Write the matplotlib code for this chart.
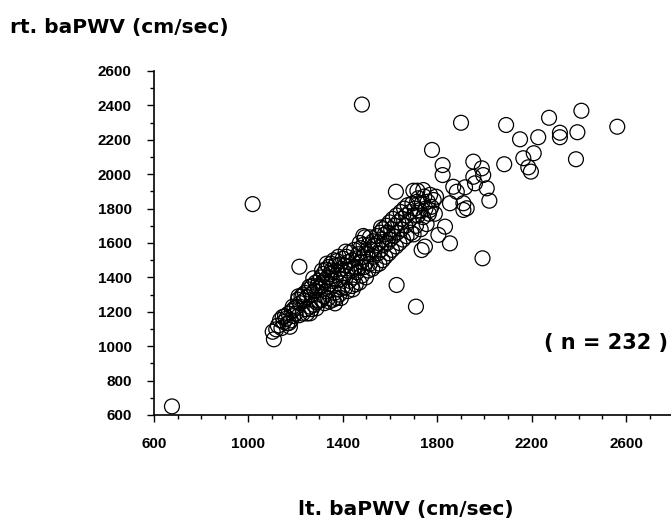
import matplotlib
matplotlib.use("Agg")
import matplotlib.pyplot as plt
from matplotlib.ticker import MultipleLocator

# outliers and sparse upper-right points (lt, rt)
lt_sparse = [676, 1018, 1481, 1216, 1625, 1699, 1716, 1628, 1710,
             1901, 2092, 2274, 2411, 2563, 1778, 2151, 2228, 2320, 2320,
             2394, 2388, 2084, 2209, 2165, 2186, 2197, 1823, 1823, 1953,
             1989, 1995, 1953, 1960, 2010, 2021, 1868, 1883, 1918, 1854,
             1911, 1925, 1911, 1795, 1741, 1833, 1854, 1805, 1748, 1992]
rt_sparse = [650, 1826, 2405, 1462, 1898, 1904, 1904, 1356, 1230,
             2299, 2286, 2328, 2369, 2276, 2141, 2203, 2215, 2241, 2215,
             2244, 2087, 2058, 2122, 2093, 2040, 2015, 2053, 1995, 2073,
             2034, 1995, 1985, 1947, 1918, 1846, 1927, 1898, 1924, 1831,
             1831, 1802, 1792, 1869, 1908, 1695, 1598, 1647, 1579, 1511]

# dense band (lt, rt)
lt_band = [1103, 1108, 1134, 1165, 1176, 1125, 1140, 1150, 1155, 1160, 1170, 1180, 1185, 1190, 1195, 1200, 1145, 1118, 1172, 1188,
           1205, 1210, 1215, 1220, 1225, 1230, 1235, 1240, 1245, 1250, 1255, 1260, 1261, 1265, 1270, 1275, 1278, 1280, 1285, 1290,
           1295, 1298, 1300, 1248, 1232, 1268, 1288, 1292, 1212, 1258,
           1305, 1308, 1310, 1315, 1318, 1320, 1325, 1328, 1330, 1335, 1338, 1340, 1345, 1348, 1350, 1355, 1358, 1360, 1365, 1367,
           1368, 1370, 1375, 1378, 1380, 1385, 1388, 1390, 1395, 1398, 1400, 1312, 1322, 1342, 1362, 1372, 1382, 1392, 1352, 1332,
           1405, 1408, 1410, 1415, 1418, 1420, 1425, 1428, 1430, 1435, 1438, 1440, 1445, 1448, 1450, 1455, 1458, 1460, 1465, 1468,
           1470, 1475, 1478, 1480, 1485, 1488, 1490, 1494, 1495, 1498, 1500, 1412, 1442, 1472, 1487,
           1505, 1508, 1510, 1515, 1515, 1520, 1525, 1528, 1530, 1535, 1540, 1545, 1548, 1550, 1555, 1558, 1560, 1565, 1568, 1570,
           1575, 1578, 1580, 1585, 1588, 1590, 1595, 1598, 1600, 1562,
           1605, 1608, 1612, 1615, 1620, 1625, 1628, 1630, 1635, 1640, 1645, 1648, 1650, 1655, 1660, 1665, 1668, 1670, 1675, 1680,
           1685, 1690, 1695, 1700, 1734,
           1705, 1710, 1715, 1718, 1720, 1725, 1730, 1735, 1740, 1745, 1750, 1755, 1760, 1765, 1770, 1775, 1785, 1790, 1769, 1700]
rt_band = [1084, 1040, 1152, 1133, 1113, 1120, 1105, 1140, 1175, 1160, 1190, 1150, 1205, 1175, 1220, 1190, 1170, 1098, 1135, 1230,
           1230, 1270, 1180, 1250, 1290, 1190, 1265, 1310, 1215, 1285, 1330, 1230, 1191, 1300, 1350, 1395, 1240, 1320, 1370, 1255,
           1335, 1380, 1265, 1190, 1300, 1215, 1220, 1350, 1290, 1345,
           1345, 1400, 1270, 1370, 1420, 1290, 1385, 1445, 1320, 1400, 1280, 1460, 1360, 1420, 1480, 1380, 1270, 1430, 1310, 1249,
           1470, 1390, 1495, 1330, 1430, 1300, 1475, 1390, 1450, 1340, 1510, 1440, 1250, 1260, 1500, 1280, 1520, 1280, 1440, 1480,
           1410, 1470, 1340, 1520, 1440, 1320, 1490, 1380, 1545, 1450, 1350, 1500, 1400, 1560, 1460, 1360, 1510, 1430, 1535, 1460,
           1370, 1570, 1490, 1410, 1520, 1590, 1460, 1633, 1540, 1400, 1490, 1550, 1330, 1600, 1641,
           1540, 1440, 1590, 1633, 1480, 1560, 1450, 1610, 1520, 1585, 1470, 1640, 1540, 1600, 1480, 1660, 1560, 1620, 1500, 1680,
           1590, 1650, 1520, 1700, 1600, 1660, 1540, 1720, 1620, 1690,
           1680, 1560, 1740, 1640, 1700, 1580, 1760, 1660, 1720, 1600, 1780, 1680, 1740, 1620, 1800, 1700, 1760, 1640, 1820, 1730,
           1780, 1660, 1830, 1760, 1559,
           1800, 1700, 1840, 1760, 1860, 1790, 1680, 1830, 1750, 1870, 1800, 1710, 1840, 1770, 1880, 1810, 1850, 1770, 1792, 1650]

lt = lt_sparse + lt_band
rt = rt_sparse + rt_band

x_ticks = [600, 1000, 1400, 1800, 2200, 2600]
y_ticks = [600, 800, 1000, 1200, 1400, 1600, 1800, 2000, 2200, 2400, 2600]

W, H = 671, 521
fig = plt.figure(figsize=(W / 100, H / 100), dpi=100)
ax = fig.add_axes([154 / W, (H - 415) / H, (673.2 - 154) / W, 344 / H])
ax.scatter(lt, rt, s=115, facecolors='none', edgecolors='black', linewidths=0.9, clip_on=False)

ax.set_xlim(600, 2800)
ax.set_ylim(600, 2600)
ax.set_xticks(x_ticks)
ax.set_yticks(y_ticks)
ax.yaxis.set_minor_locator(MultipleLocator(100))
ax.xaxis.set_minor_locator(MultipleLocator(100))
for lab in ax.get_xticklabels() + ax.get_yticklabels():
    lab.set_fontweight('bold')
    lab.set_fontfamily('Liberation Sans')
ax.tick_params(axis='both', which='major', length=5, width=1, direction='out', labelsize=11, pad=11)
ax.tick_params(axis='both', which='minor', length=3, width=1, direction='out')

ax.spines['top'].set_visible(False)
ax.spines['right'].set_visible(False)
ax.spines['left'].set_linewidth(1.2)
ax.spines['bottom'].set_linewidth(1.2)

fig.text(10 / W, (H - 33) / H, 'rt. baPWV (cm/sec)', fontsize=14.5, fontweight='bold',
         family='DejaVu Sans', ha='left', va='baseline')
fig.text(298 / W, (H - 515) / H, 'lt. baPWV (cm/sec)', fontsize=14.5, fontweight='bold',
         family='DejaVu Sans', ha='left', va='baseline')
fig.text(668 / W, (H - 343) / H, '( n = 232 )', fontsize=15, fontweight='bold',
         family='DejaVu Sans', ha='right', va='center')

fig.savefig('out.png', dpi=100)
